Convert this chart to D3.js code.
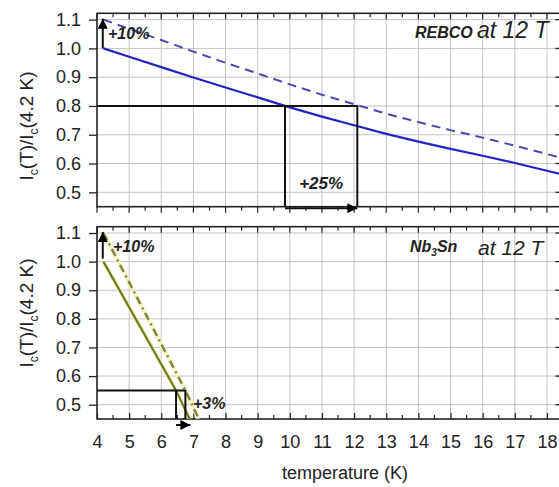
<!DOCTYPE html>
<html>
<head>
<meta charset="utf-8">
<script src="https://cdn.jsdelivr.net/npm/d3@7"></script>
<style>
  html, body { margin: 0; padding: 0; background: #fff; }
  svg { display: block; font-family: Arial, "Liberation Sans", sans-serif; }
</style>
</head>
<body>
<svg id="chart" width="559" height="487"></svg>
<script>
// Normalised critical current Ic(T)/Ic(4.2 K) at 12 T
const rebcoTemps = [4.2, 5, 6, 7, 8, 9, 10, 11, 12, 13, 14, 15, 16, 17, 18, 18.45];
const rebcoIc = [1.000, 0.971, 0.935, 0.899, 0.864, 0.830, 0.795, 0.763, 0.733, 0.703, 0.676, 0.651, 0.627, 0.602, 0.575, 0.563];
const rebcoIcPlus10 = [1.100, 1.068, 1.029, 0.989, 0.950, 0.913, 0.875, 0.839, 0.806, 0.773, 0.744, 0.716, 0.690, 0.662, 0.633, 0.619];

const nb3snTemps = [4.2, 6.46, 6.88];
const nb3snIc = [1.00, 0.55, 0.45];
const nb3snPlusTemps = [4.2, 6.75, 7.17];
const nb3snIcPlus10 = [1.10, 0.55, 0.45];

// Operating-margin guides: working level and the two temperatures it is reached at
const rebcoLevel = 0.80;
const rebcoMarginT = [9.85, 12.1];
const nb3snLevel = 0.55;
const nb3snMarginT = [6.46, 6.75];

// Axis ticks
const xTicks = [4, 5, 6, 7, 8, 9, 10, 11, 12, 13, 14, 15, 16, 17, 18];
const xMinorTicks = [4.5, 5.5, 6.5, 7.5, 8.5, 9.5, 10.5, 11.5, 12.5, 13.5, 14.5, 15.5, 16.5, 17.5, 18.5];
const yTicks = [0.5, 0.6, 0.7, 0.8, 0.9, 1.0, 1.1];

const svg = d3.select("#chart");
svg.append("rect").attr("width", 559).attr("height", 487).attr("fill", "#fff");

const x = d3.scaleLinear().domain([4, 18.45]).range([97, 561.4]);
const yTop = d3.scaleLinear().domain([0.45, 1.122]).range([206.7, 13.3]);
const yBot = d3.scaleLinear().domain([0.45, 1.122]).range([419, 226.7]);

const defs = svg.append("defs");
defs.append("marker")
  .attr("id", "head")
  .attr("viewBox", "0 0 10 10")
  .attr("refX", 10).attr("refY", 5)
  .attr("markerWidth", 12).attr("markerHeight", 10)
  .attr("markerUnits", "userSpaceOnUse")
  .attr("orient", "auto")
  .append("path").attr("d", "M0,0 L10,5 L0,10 Z").attr("fill", "#000");

[yTop, yBot].forEach((y, i) => {
  defs.append("clipPath").attr("id", "clip" + i)
    .append("rect")
    .attr("x", x.range()[0]).attr("y", y.range()[1])
    .attr("width", x.range()[1] - x.range()[0])
    .attr("height", y.range()[0] - y.range()[1]);
});

function drawFrame(y, idx, showXLabels) {
  const g = svg.append("g");
  const [x0, x1] = x.range();
  const [yb, yt] = y.range();

  // grid
  g.append("g").selectAll("line").data(xTicks.slice(1)).join("line")
    .attr("x1", d => x(d)).attr("x2", d => x(d))
    .attr("y1", yt).attr("y2", yb)
    .attr("stroke", "#c4c4c4").attr("stroke-width", 1);
  g.append("g").selectAll("line").data(yTicks).join("line")
    .attr("x1", x0).attr("x2", x1)
    .attr("y1", d => y(d)).attr("y2", d => y(d))
    .attr("stroke", "#c4c4c4").attr("stroke-width", 1);

  // left axis with labels
  const left = g.append("g").attr("transform", `translate(${x0},0)`)
    .call(d3.axisLeft(y).tickValues(yTicks).tickFormat(d3.format(".1f")).tickSize(8).tickPadding(8));
  left.select(".domain").remove();
  left.selectAll("line").attr("stroke", "#222").attr("stroke-width", 1.3);
  left.selectAll("text").attr("font-size", 18).attr("fill", "#222")
    .attr("font-family", "Arial, 'Liberation Sans', sans-serif");

  // right-side inward ticks
  g.append("g").selectAll("line").data(yTicks).join("line")
    .attr("x1", x1 - 6).attr("x2", x1)
    .attr("y1", d => y(d)).attr("y2", d => y(d))
    .attr("stroke", "#222").attr("stroke-width", 1.3);

  // top inward ticks
  g.append("g").selectAll("line").data(xTicks.concat(xMinorTicks)).join("line")
    .attr("x1", d => x(d)).attr("x2", d => x(d))
    .attr("y1", yt).attr("y2", d => yt + (Number.isInteger(d) ? 6 : 4))
    .attr("stroke", "#222").attr("stroke-width", 1.2);

  // bottom ticks
  if (showXLabels) {
    const bottom = g.append("g").attr("transform", `translate(0,${yb})`)
      .call(d3.axisBottom(x).tickValues(xTicks).tickFormat(d3.format("d")).tickSize(-6).tickPadding(16));
    bottom.select(".domain").remove();
    bottom.selectAll("line").attr("stroke", "#222").attr("stroke-width", 1.2);
    bottom.selectAll("text").attr("font-size", 18).attr("fill", "#222")
      .attr("font-family", "Arial, 'Liberation Sans', sans-serif");
    g.append("g").selectAll("line").data(xMinorTicks).join("line")
      .attr("x1", d => x(d)).attr("x2", d => x(d))
      .attr("y1", yb).attr("y2", yb - 4)
      .attr("stroke", "#222").attr("stroke-width", 1.2);
  } else {
    g.append("g").selectAll("line").data(xTicks.concat(xMinorTicks)).join("line")
      .attr("x1", d => x(d)).attr("x2", d => x(d))
      .attr("y1", yb).attr("y2", d => yb + (Number.isInteger(d) ? 6 : 4))
      .attr("stroke", "#222").attr("stroke-width", 1.2);
  }

  // frame
  g.append("rect").attr("x", x0).attr("y", yt)
    .attr("width", x1 - x0).attr("height", yb - yt)
    .attr("fill", "none").attr("stroke", "#222").attr("stroke-width", 1.6);
}

drawFrame(yTop, 0, false);
drawFrame(yBot, 1, true);

// ---- REBCO panel ----
const topPlot = svg.append("g").attr("clip-path", "url(#clip0)");
const lineTop = d3.line().x(d => x(d[0])).y(d => yTop(d[1]));

topPlot.append("path")
  .datum(d3.zip(rebcoTemps, rebcoIcPlus10))
  .attr("d", lineTop).attr("fill", "none")
  .attr("stroke", "#4b4bab").attr("stroke-width", 2)
  .attr("stroke-dasharray", "9,6");
topPlot.append("path")
  .datum(d3.zip(rebcoTemps, rebcoIc))
  .attr("d", lineTop).attr("fill", "none")
  .attr("stroke", "#2424c4").attr("stroke-width", 2.2);

// margin box
topPlot.append("path")
  .attr("d", `M${x(4)},${yTop(rebcoLevel)} H${x(rebcoMarginT[1])} V${yTop(0.45)}
              M${x(rebcoMarginT[0])},${yTop(rebcoLevel)} V${yTop(0.45)}`)
  .attr("fill", "none").attr("stroke", "#111").attr("stroke-width", 2);

svg.append("line")
  .attr("x1", x(rebcoMarginT[0])).attr("x2", x(rebcoMarginT[1]))
  .attr("y1", yTop(0.45) + 1.5).attr("y2", yTop(0.45) + 1.5)
  .attr("stroke", "#111").attr("stroke-width", 2)
  .attr("marker-end", "url(#head)");

svg.append("line")
  .attr("x1", x(4.18)).attr("x2", x(4.18))
  .attr("y1", yTop(1.0)).attr("y2", yTop(1.1) - 1)
  .attr("stroke", "#111").attr("stroke-width", 2)
  .attr("marker-end", "url(#head)");

svg.append("text").attr("x", 108).attr("y", 38.5)
  .attr("font-size", 16).attr("font-weight", "bold").attr("font-style", "italic")
  .attr("fill", "#222").text("+10%");

svg.append("text").attr("x", x((rebcoMarginT[0] + rebcoMarginT[1]) / 2)).attr("y", 189)
  .attr("text-anchor", "middle")
  .attr("font-size", 17).attr("font-weight", "bold").attr("font-style", "italic")
  .attr("fill", "#222").text("+25%");

svg.append("text").attr("x", 415).attr("y", 37.5)
  .attr("font-size", 16).attr("font-weight", "bold").attr("font-style", "italic")
  .attr("fill", "#222").text("REBCO");
svg.append("text").attr("x", 477).attr("y", 37.5)
  .attr("font-size", 23).attr("font-style", "italic")
  .attr("fill", "#222").text("at 12 T");

// ---- Nb3Sn panel ----
const botPlot = svg.append("g").attr("clip-path", "url(#clip1)");
const lineBot = d3.line().x(d => x(d[0])).y(d => yBot(d[1]));

const nbSolid = d3.zip(nb3snTemps, nb3snIc);
const nbPlus = d3.zip(nb3snPlusTemps, nb3snIcPlus10);

// soft highlight behind the Nb3Sn curves
[nbSolid, nbPlus].forEach(data => {
  botPlot.append("path").datum(data).attr("d", lineBot)
    .attr("fill", "none").attr("stroke", "#f1f3c0").attr("stroke-width", 5)
    .attr("stroke-opacity", 0.75);
});
botPlot.append("path").datum(nbPlus).attr("d", lineBot)
  .attr("fill", "none").attr("stroke", "#80853c").attr("stroke-width", 2.4)
  .attr("stroke-dasharray", "8,4,2,4");
botPlot.append("path").datum(nbSolid).attr("d", lineBot)
  .attr("fill", "none").attr("stroke", "#6f7a22").attr("stroke-width", 2.2);

botPlot.append("path")
  .attr("d", `M${x(4)},${yBot(nb3snLevel)} H${x(nb3snMarginT[1])} V${yBot(0.45)}
              M${x(nb3snMarginT[0])},${yBot(nb3snLevel)} V${yBot(0.45)}`)
  .attr("fill", "none").attr("stroke", "#111").attr("stroke-width", 2);

svg.append("line")
  .attr("x1", x(nb3snMarginT[0])).attr("x2", x(nb3snMarginT[1]) + 5)
  .attr("y1", yBot(0.45) + 6).attr("y2", yBot(0.45) + 6)
  .attr("stroke", "#111").attr("stroke-width", 2)
  .attr("marker-end", "url(#head)");

svg.append("line")
  .attr("x1", x(4.18)).attr("x2", x(4.18))
  .attr("y1", yBot(1.0) - 3).attr("y2", yBot(1.1) - 1)
  .attr("stroke", "#111").attr("stroke-width", 2)
  .attr("marker-end", "url(#head)");

svg.append("text").attr("x", 113).attr("y", 252)
  .attr("font-size", 16).attr("font-weight", "bold").attr("font-style", "italic")
  .attr("fill", "#222").text("+10%");

svg.append("text").attr("x", 193).attr("y", 409)
  .attr("font-size", 16).attr("font-weight", "bold").attr("font-style", "italic")
  .attr("fill", "#222").text("+3%");

const nbLabel = svg.append("text").attr("x", 410).attr("y", 251.7)
  .attr("font-size", 16).attr("font-weight", "bold").attr("font-style", "italic")
  .attr("fill", "#222");
nbLabel.append("tspan").text("Nb");
nbLabel.append("tspan").attr("font-size", 10).attr("dy", 4).text("3");
nbLabel.append("tspan").attr("dy", -4).text("Sn");
svg.append("text").attr("x", 478).attr("y", 255)
  .attr("font-size", 21).attr("font-style", "italic")
  .attr("fill", "#222").text("at 12 T");

// ---- axis titles ----
function yTitle(cx, cy) {
  const t = svg.append("text")
    .attr("transform", `translate(${cx},${cy}) rotate(-90)`)
    .attr("text-anchor", "middle")
    .attr("font-size", 19).attr("fill", "#222");
  t.append("tspan").text("I");
  t.append("tspan").attr("font-size", 12).attr("dy", 5).text("c");
  t.append("tspan").attr("dy", -5).text("(T)/I");
  t.append("tspan").attr("font-size", 12).attr("dy", 5).text("c");
  t.append("tspan").attr("dy", -5).text("(4.2 K)");
}
yTitle(33, 126);
yTitle(33, 313);

svg.append("text").attr("x", 345).attr("y", 479)
  .attr("text-anchor", "middle").attr("font-size", 18).attr("fill", "#222")
  .text("temperature (K)");
</script>
</body>
</html>
